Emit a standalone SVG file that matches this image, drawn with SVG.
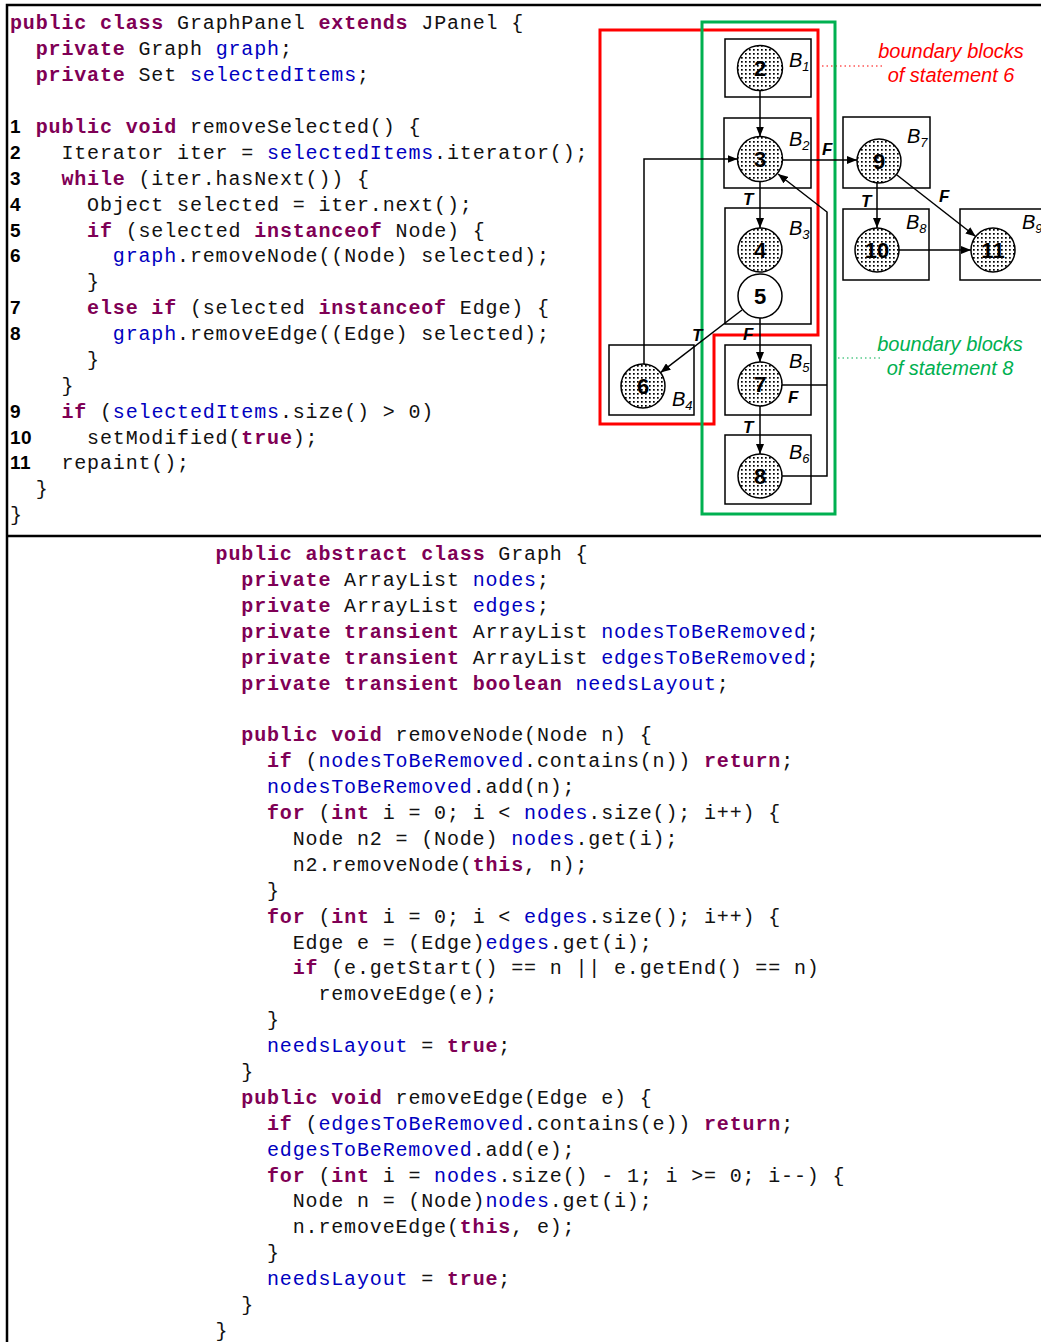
<svg xmlns="http://www.w3.org/2000/svg" width="1041" height="1342" viewBox="0 0 1041 1342">
<defs>
<pattern id="dots" width="4" height="4" patternUnits="userSpaceOnUse"><rect width="4" height="4" fill="#fff"/><rect x="1" y="1" width="1.7" height="1.7" fill="#000"/></pattern>
<marker id="ah" viewBox="0 0 10 8" refX="10" refY="4" markerWidth="10" markerHeight="8" markerUnits="userSpaceOnUse" orient="auto"><path d="M0,0 L10,4 L0,8 z" fill="#000"/></marker>
<style>
.c{font-family:"Liberation Mono","Courier New",monospace;font-size:20px;letter-spacing:0.85px;fill:#111;white-space:pre}
.k{font-weight:bold;fill:#7f0055}
.f{fill:#0000c0}
.n{font-family:"Liberation Sans",Arial,sans-serif;font-size:19px;font-weight:bold;fill:#000;letter-spacing:0.5px}
.frame{stroke:#000;stroke-width:2.5;fill:none}
.box{fill:#fff;stroke:#000;stroke-width:1.5}
.node{fill:url(#dots);stroke:#000;stroke-width:1.5}
.white{fill:#fff;stroke:#000;stroke-width:1.5}
.num{font-family:"Liberation Sans",Arial,sans-serif;font-size:22px;font-weight:bold;fill:#000;text-anchor:middle}
.bl{font-family:"Liberation Sans",Arial,sans-serif;font-size:20px;font-style:italic;fill:#000}
.sub{font-size:13px}
.el{font-family:"Liberation Sans",Arial,sans-serif;font-size:17px;font-style:italic;font-weight:bold;fill:#000}
.edge{stroke:#000;stroke-width:1.5;fill:none}
.note{font-family:"Liberation Sans",Arial,sans-serif;font-size:20px;font-style:italic;text-anchor:middle}
</style>
</defs>
<rect width="1041" height="1342" fill="#fff"/>
<g id="frame">
<path class="frame" d="M7,1342 V5 H1041"/>
<path class="frame" d="M7,536 H1041"/>
</g>
<g id="code-graphpanel">
<text class="c" x="10" y="29"><tspan class="k">public class</tspan> GraphPanel <tspan class="k">extends</tspan> JPanel {</text>
<text class="c" x="35.7" y="55"><tspan class="k">private</tspan> Graph <tspan class="f">graph</tspan>;</text>
<text class="c" x="35.7" y="81"><tspan class="k">private</tspan> Set <tspan class="f">selectedItems</tspan>;</text>
<text class="n" x="10" y="133">1</text>
<text class="c" x="35.7" y="133"><tspan class="k">public void</tspan> removeSelected() {</text>
<text class="n" x="10" y="159">2</text>
<text class="c" x="61.4" y="159">Iterator iter = <tspan class="f">selectedItems</tspan>.iterator();</text>
<text class="n" x="10" y="185">3</text>
<text class="c" x="61.4" y="185"><tspan class="k">while</tspan> (iter.hasNext()) {</text>
<text class="n" x="10" y="211">4</text>
<text class="c" x="87.1" y="211">Object selected = iter.next();</text>
<text class="n" x="10" y="237">5</text>
<text class="c" x="87.1" y="237"><tspan class="k">if</tspan> (selected <tspan class="k">instanceof</tspan> Node) {</text>
<text class="n" x="10" y="262">6</text>
<text class="c" x="112.8" y="262"><tspan class="f">graph</tspan>.removeNode((Node) selected);</text>
<text class="c" x="87.1" y="288">}</text>
<text class="n" x="10" y="314">7</text>
<text class="c" x="87.1" y="314"><tspan class="k">else if</tspan> (selected <tspan class="k">instanceof</tspan> Edge) {</text>
<text class="n" x="10" y="340">8</text>
<text class="c" x="112.8" y="340"><tspan class="f">graph</tspan>.removeEdge((Edge) selected);</text>
<text class="c" x="87.1" y="366">}</text>
<text class="c" x="61.4" y="392">}</text>
<text class="n" x="10" y="418">9</text>
<text class="c" x="61.4" y="418"><tspan class="k">if</tspan> (<tspan class="f">selectedItems</tspan>.size() &gt; 0)</text>
<text class="n" x="10" y="444">10</text>
<text class="c" x="87.1" y="444">setModified(<tspan class="k">true</tspan>);</text>
<text class="n" x="10" y="469">11</text>
<text class="c" x="61.4" y="469">repaint();</text>
<text class="c" x="35.7" y="495">}</text>
<text class="c" x="10" y="521">}</text>
</g>
<g id="code-graph">
<text class="c" x="215.6" y="560"><tspan class="k">public abstract class</tspan> Graph {</text>
<text class="c" x="241.3" y="586"><tspan class="k">private</tspan> ArrayList <tspan class="f">nodes</tspan>;</text>
<text class="c" x="241.3" y="612"><tspan class="k">private</tspan> ArrayList <tspan class="f">edges</tspan>;</text>
<text class="c" x="241.3" y="638"><tspan class="k">private transient</tspan> ArrayList <tspan class="f">nodesToBeRemoved</tspan>;</text>
<text class="c" x="241.3" y="664"><tspan class="k">private transient</tspan> ArrayList <tspan class="f">edgesToBeRemoved</tspan>;</text>
<text class="c" x="241.3" y="690"><tspan class="k">private transient boolean</tspan> <tspan class="f">needsLayout</tspan>;</text>
<text class="c" x="241.3" y="741"><tspan class="k">public void</tspan> removeNode(Node n) {</text>
<text class="c" x="267" y="767"><tspan class="k">if</tspan> (<tspan class="f">nodesToBeRemoved</tspan>.contains(n)) <tspan class="k">return</tspan>;</text>
<text class="c" x="267" y="793"><tspan class="f">nodesToBeRemoved</tspan>.add(n);</text>
<text class="c" x="267" y="819"><tspan class="k">for</tspan> (<tspan class="k">int</tspan> i = 0; i &lt; <tspan class="f">nodes</tspan>.size(); i++) {</text>
<text class="c" x="292.7" y="845">Node n2 = (Node) <tspan class="f">nodes</tspan>.get(i);</text>
<text class="c" x="292.7" y="871">n2.removeNode(<tspan class="k">this</tspan>, n);</text>
<text class="c" x="267" y="897">}</text>
<text class="c" x="267" y="923"><tspan class="k">for</tspan> (<tspan class="k">int</tspan> i = 0; i &lt; <tspan class="f">edges</tspan>.size(); i++) {</text>
<text class="c" x="292.7" y="949">Edge e = (Edge)<tspan class="f">edges</tspan>.get(i);</text>
<text class="c" x="292.7" y="974"><tspan class="k">if</tspan> (e.getStart() == n || e.getEnd() == n)</text>
<text class="c" x="318.4" y="1000">removeEdge(e);</text>
<text class="c" x="267" y="1026">}</text>
<text class="c" x="267" y="1052"><tspan class="f">needsLayout</tspan> = <tspan class="k">true</tspan>;</text>
<text class="c" x="241.3" y="1078">}</text>
<text class="c" x="241.3" y="1104"><tspan class="k">public void</tspan> removeEdge(Edge e) {</text>
<text class="c" x="267" y="1130"><tspan class="k">if</tspan> (<tspan class="f">edgesToBeRemoved</tspan>.contains(e)) <tspan class="k">return</tspan>;</text>
<text class="c" x="267" y="1156"><tspan class="f">edgesToBeRemoved</tspan>.add(e);</text>
<text class="c" x="267" y="1182"><tspan class="k">for</tspan> (<tspan class="k">int</tspan> i = <tspan class="f">nodes</tspan>.size() - 1; i &gt;= 0; i--) {</text>
<text class="c" x="292.7" y="1207">Node n = (Node)<tspan class="f">nodes</tspan>.get(i);</text>
<text class="c" x="292.7" y="1233">n.removeEdge(<tspan class="k">this</tspan>, e);</text>
<text class="c" x="267" y="1259">}</text>
<text class="c" x="267" y="1285"><tspan class="f">needsLayout</tspan> = <tspan class="k">true</tspan>;</text>
<text class="c" x="241.3" y="1311">}</text>
<text class="c" x="215.6" y="1337">}</text>
</g>
<g id="boundary-6">
<path d="M600,30 H818 V335 H714 V424 H600 Z" fill="none" stroke="#ff0000" stroke-width="3"/>
<line x1="822" y1="66" x2="882" y2="66" stroke="#ff0000" stroke-width="1.2" stroke-dasharray="1.5,3"/>
<text class="note" x="951" y="58" fill="#ff0000">boundary blocks</text>
<text class="note" x="951" y="82" fill="#ff0000">of statement 6</text>
</g>
<g id="boundary-8">
<rect x="702" y="22" width="133" height="492" fill="none" stroke="#00b050" stroke-width="3"/>
<line x1="838" y1="358" x2="880" y2="358" stroke="#00b050" stroke-width="1.2" stroke-dasharray="1.5,3"/>
<text class="note" x="950" y="351" fill="#00b050">boundary blocks</text>
<text class="note" x="950" y="375" fill="#00b050">of statement 8</text>
</g>
<g id="B1"><rect class="box" x="725" y="39" width="86" height="58"/><text class="bl" x="789" y="67">B<tspan class="sub" dy="4">1</tspan></text></g>
<g id="B2"><rect class="box" x="724" y="118" width="87" height="70"/><text class="bl" x="789" y="146">B<tspan class="sub" dy="4">2</tspan></text></g>
<g id="B3"><rect class="box" x="725" y="208" width="86" height="116"/><text class="bl" x="789" y="235">B<tspan class="sub" dy="4">3</tspan></text></g>
<g id="B4"><rect class="box" x="609" y="345" width="85" height="70"/><text class="bl" x="672" y="406">B<tspan class="sub" dy="4">4</tspan></text></g>
<g id="B5"><rect class="box" x="725" y="345" width="86" height="70"/><text class="bl" x="789" y="368">B<tspan class="sub" dy="4">5</tspan></text></g>
<g id="B6"><rect class="box" x="725" y="435" width="86" height="69"/><text class="bl" x="789" y="459">B<tspan class="sub" dy="4">6</tspan></text></g>
<g id="B7"><rect class="box" x="843" y="117" width="87" height="71"/><text class="bl" x="907" y="143">B<tspan class="sub" dy="4">7</tspan></text></g>
<g id="B8"><rect class="box" x="843" y="209" width="86" height="71"/><text class="bl" x="906" y="229">B<tspan class="sub" dy="4">8</tspan></text></g>
<g id="B9"><rect class="box" x="960" y="209" width="90" height="71"/><text class="bl" x="1022" y="229">B<tspan class="sub" dy="4">9</tspan></text></g>
<g id="n2"><circle class="node" cx="760" cy="68" r="22.5"/><text class="num" x="760" y="76">2</text></g>
<g id="n3"><circle class="node" cx="760" cy="159" r="22.5"/><text class="num" x="760" y="167">3</text></g>
<g id="n4"><circle class="node" cx="760" cy="250" r="22"/><text class="num" x="760" y="258">4</text></g>
<g id="n5"><circle class="white" cx="760" cy="296" r="22"/><text class="num" x="760" y="304">5</text></g>
<g id="n6"><circle class="node" cx="643" cy="386" r="22"/><text class="num" x="643" y="394">6</text></g>
<g id="n7"><circle class="node" cx="760" cy="384" r="22"/><text class="num" x="760" y="392">7</text></g>
<g id="n8"><circle class="node" cx="760" cy="476" r="22"/><text class="num" x="760" y="484">8</text></g>
<g id="n9"><circle class="node" cx="879" cy="161" r="22"/><text class="num" x="879" y="169">9</text></g>
<g id="n10"><circle class="node" cx="877" cy="250" r="22"/><text class="num" x="877" y="258">10</text></g>
<g id="n11"><circle class="node" cx="993" cy="250" r="22"/><text class="num" x="993" y="258">11</text></g>
<g id="connectors">
<line class="edge" x1="760" y1="90.5" x2="760" y2="136.5" marker-end="url(#ah)"/>
<polyline class="edge" points="644,364 644,159 737.5,159" marker-end="url(#ah)"/>
<polyline class="edge" points="782,476 827,476 827,212 778,174" marker-end="url(#ah)"/>
<line class="edge" x1="782" y1="385" x2="827" y2="385"/>
<line class="edge" x1="760" y1="181.5" x2="760" y2="228" marker-end="url(#ah)"/>
<line class="edge" x1="782.5" y1="160" x2="857" y2="160" marker-end="url(#ah)"/>
<line class="edge" x1="742" y1="310" x2="660.5" y2="372.6" marker-end="url(#ah)"/>
<line class="edge" x1="760" y1="318" x2="760" y2="362" marker-end="url(#ah)"/>
<line class="edge" x1="760" y1="406" x2="760" y2="454" marker-end="url(#ah)"/>
<line class="edge" x1="877" y1="183" x2="877" y2="228" marker-end="url(#ah)"/>
<line class="edge" x1="896.3" y1="174.5" x2="975.7" y2="236.5" marker-end="url(#ah)"/>
<line class="edge" x1="899" y1="250" x2="971" y2="250" marker-end="url(#ah)"/>
<text class="el" x="822" y="155">F</text>
<text class="el" x="743" y="205">T</text>
<text class="el" x="692" y="341">T</text>
<text class="el" x="743" y="340">F</text>
<text class="el" x="788" y="403">F</text>
<text class="el" x="743" y="433">T</text>
<text class="el" x="861" y="207">T</text>
<text class="el" x="939" y="202">F</text>
</g>
</svg>
